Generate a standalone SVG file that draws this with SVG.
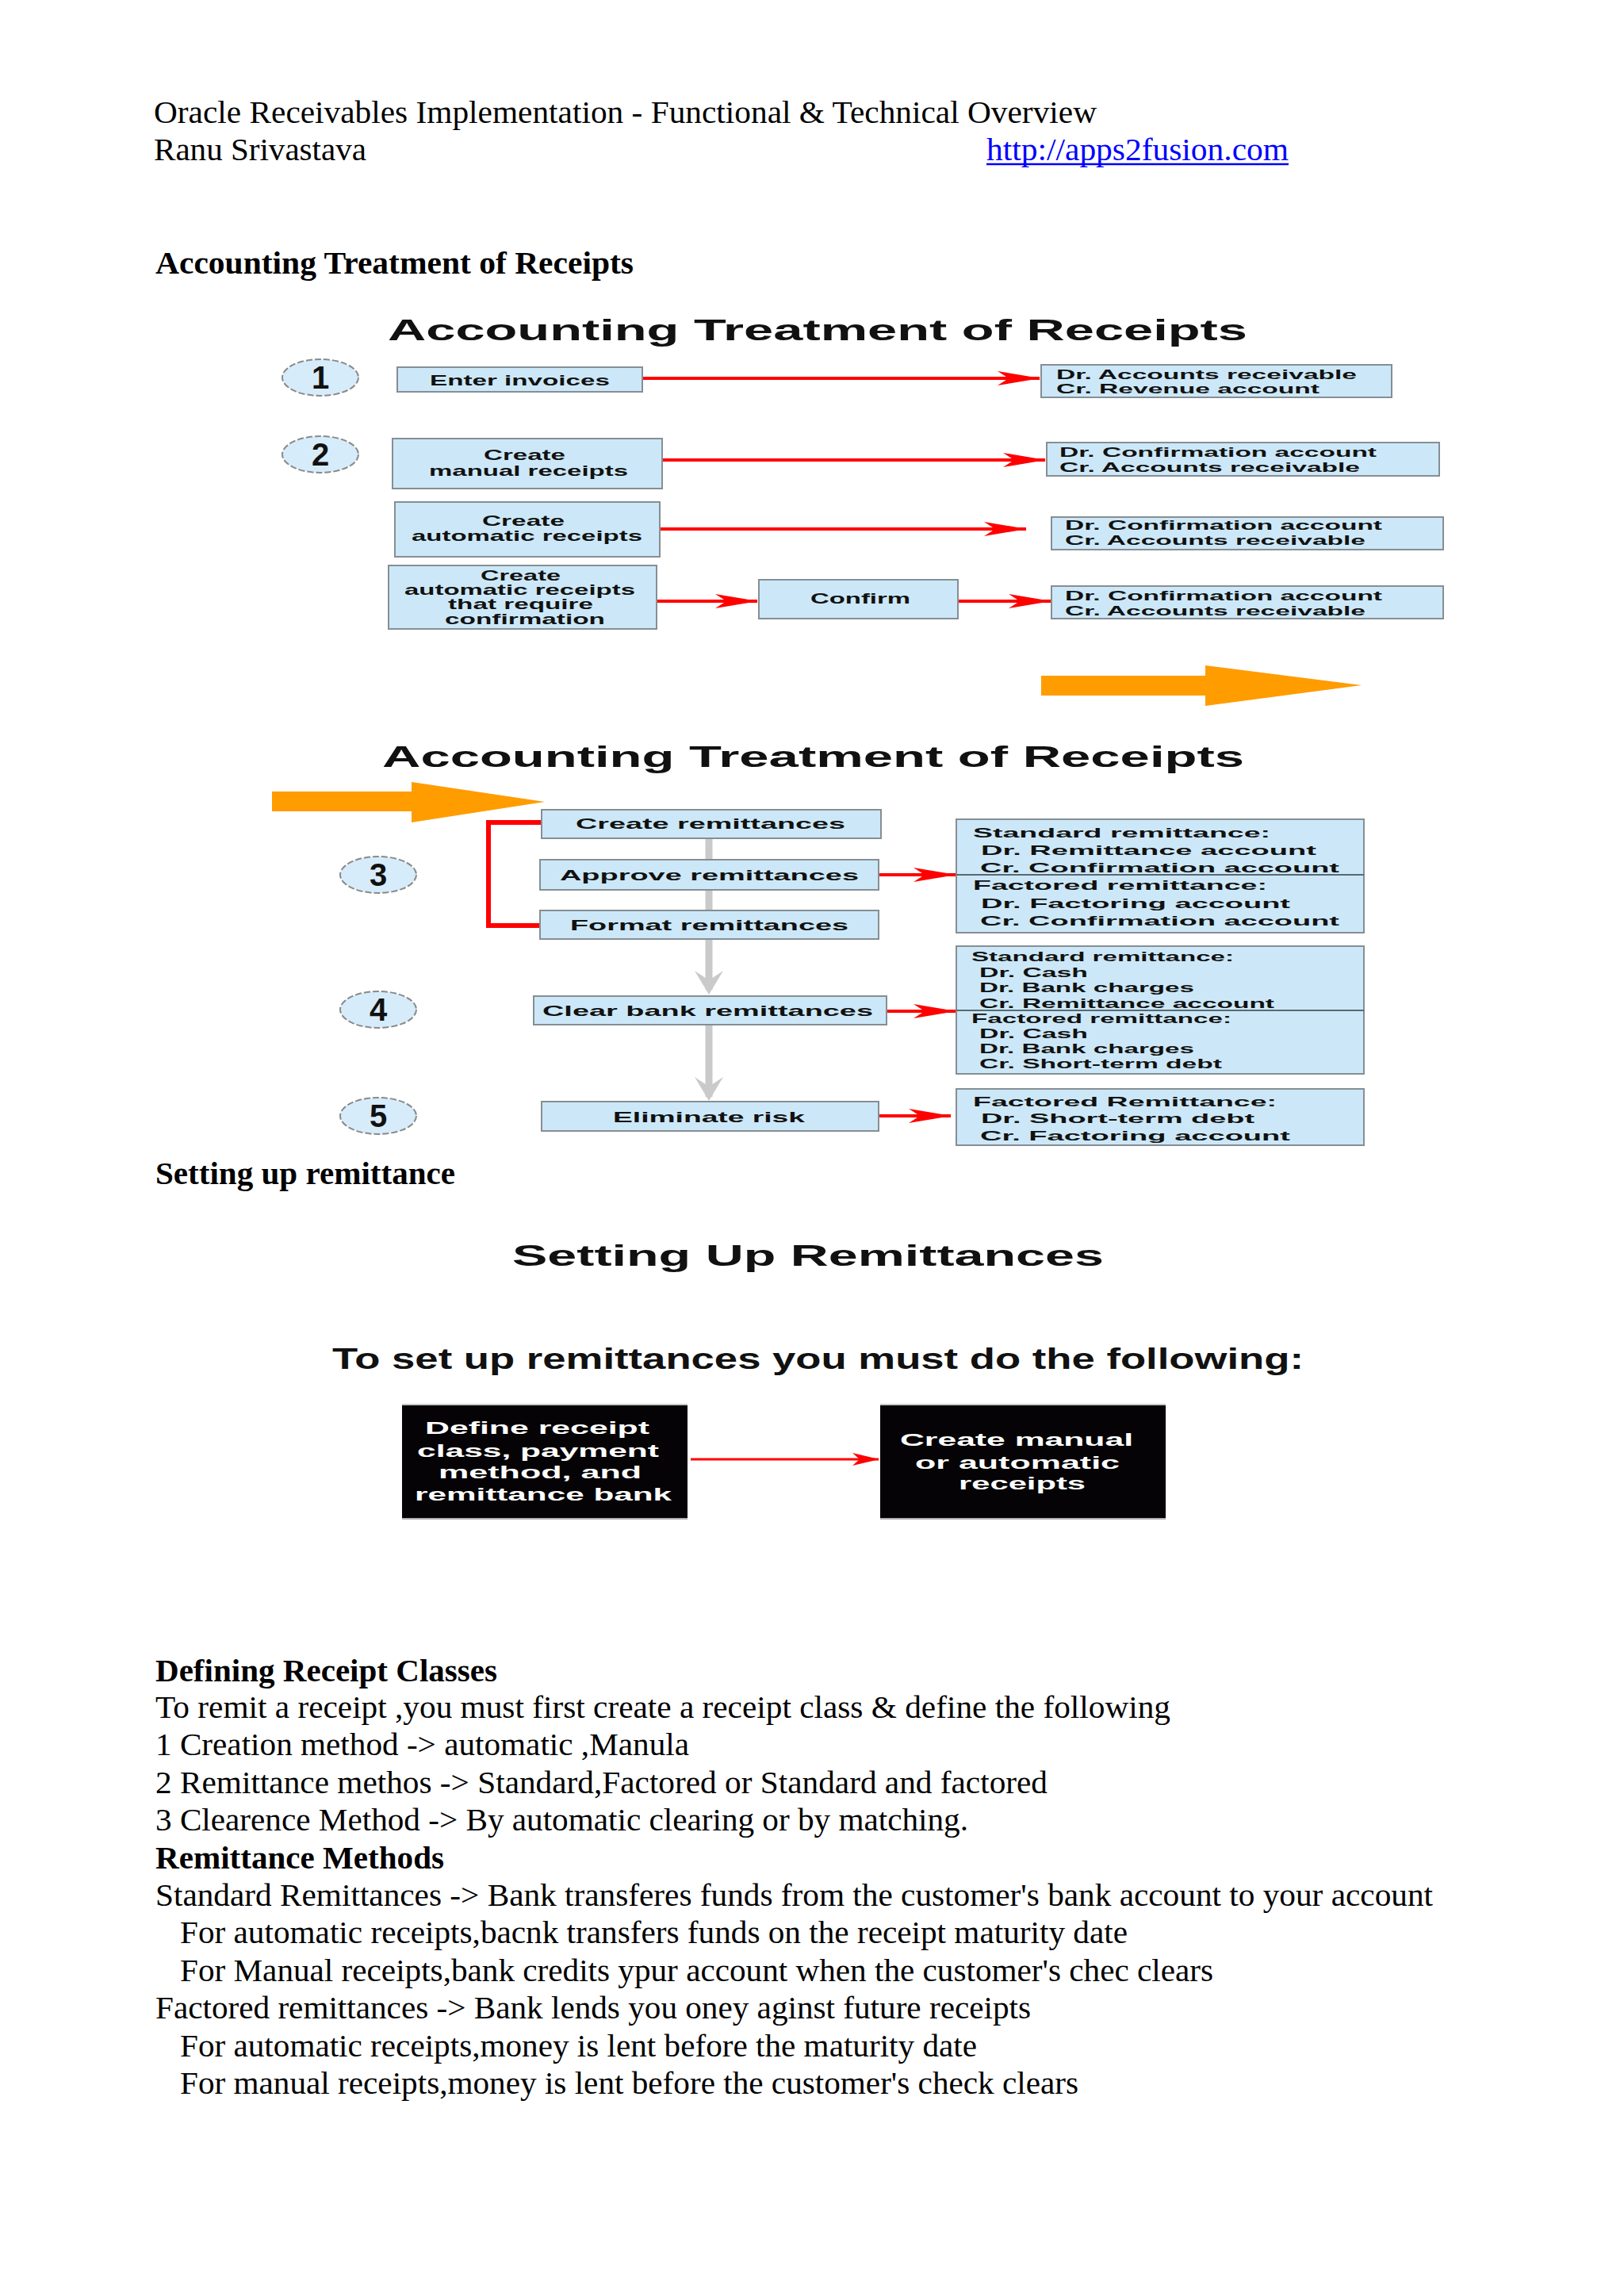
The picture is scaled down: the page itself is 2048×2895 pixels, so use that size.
<svg xmlns="http://www.w3.org/2000/svg" width="2048" height="2895" viewBox="0 0 2048 2895">
<defs>
<style>
.doc{font-family:"Liberation Serif","Times New Roman",serif;font-size:41px;fill:#000}
.docb{font-family:"Liberation Serif","Times New Roman",serif;font-size:41px;font-weight:bold;fill:#000}
.ttl{font-family:"Liberation Sans",Arial,sans-serif;font-weight:bold;font-size:36px;fill:#111}
.bx{fill:#cce8f8;stroke:#868e94;stroke-width:2}
.bt{font-family:"Liberation Sans",Arial,sans-serif;font-weight:bold;font-size:19px;fill:#111}
.st{font-family:"Liberation Sans",Arial,sans-serif;font-weight:bold;font-size:17px;fill:#111}
.num{font-family:"Liberation Sans",Arial,sans-serif;font-weight:bold;font-size:40px;fill:#111;text-anchor:middle}
.circ{fill:#d6ecfa;stroke:#8a8a8a;stroke-width:2;stroke-dasharray:8 3}
.red{stroke:#ff0000;stroke-width:4;fill:none}
.gray{stroke:#cacaca;stroke-width:9;fill:none}
.blk{fill:#050305}
.wt{font-family:"Liberation Sans",Arial,sans-serif;font-weight:bold;font-size:22px;fill:#fff}
.orange{fill:#ff9c00}
</style>
<marker id="ra" markerUnits="userSpaceOnUse" markerWidth="54" markerHeight="20" viewBox="0 0 54 20" refX="53" refY="10" orient="auto">
<path d="M0,1 L54,10 L0,19 L14,10 Z" fill="#ff0000"/>
</marker>
<marker id="rs" markerUnits="userSpaceOnUse" markerWidth="34" markerHeight="16" viewBox="0 0 34 16" refX="33" refY="8" orient="auto">
<path d="M0,0 L34,8 L0,16 L9,8 Z" fill="#ff0000"/>
</marker>
</defs>
<rect width="2048" height="2895" fill="#ffffff"/>

<g id="header">
<text class="doc" x="194" y="155" textLength="1189" lengthAdjust="spacingAndGlyphs">Oracle Receivables Implementation - Functional &amp; Technical Overview</text>
<text class="doc" x="194" y="202" textLength="268" lengthAdjust="spacingAndGlyphs">Ranu Srivastava</text>
<text class="doc" x="1244" y="202" fill="#0000ff" style="fill:#0000ff" textLength="381" lengthAdjust="spacingAndGlyphs">http://apps2fusion.com</text>
<line x1="1244" y1="207" x2="1625" y2="207" stroke="#0000ff" stroke-width="2.5"/>
<text class="docb" x="196" y="345" textLength="603" lengthAdjust="spacingAndGlyphs">Accounting Treatment of Receipts</text>
</g>

<!-- Diagram 1 -->
<g id="title1"><text class="ttl" x="489" y="429" textLength="1084" lengthAdjust="spacingAndGlyphs">Accounting Treatment of Receipts</text></g>

<g id="connectors1">
<line class="red" x1="810" y1="477" x2="1311" y2="477" marker-end="url(#ra)"/>
<line class="red" x1="835" y1="580" x2="1318" y2="580" marker-end="url(#ra)"/>
<line class="red" x1="832" y1="667" x2="1294" y2="667" marker-end="url(#ra)"/>
<line class="red" x1="828" y1="758" x2="955" y2="758" marker-end="url(#ra)"/>
<line class="red" x1="1208" y1="758" x2="1325" y2="758" marker-end="url(#ra)"/>
</g>

<g id="step1"><ellipse class="circ" cx="404" cy="476" rx="48" ry="23"/><text class="num" x="404" y="490">1</text></g>
<g id="step2"><ellipse class="circ" cx="404" cy="573" rx="48" ry="23"/><text class="num" x="404" y="587">2</text></g>

<g id="enter-invoices"><rect class="bx" x="501" y="463" width="309" height="31"/>
<text class="bt" x="542" y="486" font-size="20" textLength="227" lengthAdjust="spacingAndGlyphs">Enter invoices</text></g>
<g id="manual-receipts"><rect class="bx" x="495" y="553" width="340" height="63"/>
<text class="bt" x="610" y="580" textLength="103" lengthAdjust="spacingAndGlyphs">Create</text>
<text class="bt" x="541" y="600" textLength="251" lengthAdjust="spacingAndGlyphs">manual receipts</text></g>
<g id="automatic-receipts"><rect class="bx" x="498" y="633" width="334" height="69"/>
<text class="bt" x="608" y="663" textLength="104" lengthAdjust="spacingAndGlyphs">Create</text>
<text class="bt" x="519" y="682" textLength="291" lengthAdjust="spacingAndGlyphs">automatic receipts</text></g>
<g id="auto-confirm-receipts"><rect class="bx" x="490" y="713" width="338" height="80"/>
<text class="bt" x="606" y="732" textLength="101" lengthAdjust="spacingAndGlyphs">Create</text>
<text class="bt" x="510" y="750" textLength="291" lengthAdjust="spacingAndGlyphs">automatic receipts</text>
<text class="bt" x="565" y="768" textLength="183" lengthAdjust="spacingAndGlyphs">that require</text>
<text class="bt" x="561" y="787" textLength="202" lengthAdjust="spacingAndGlyphs">confirmation</text></g>
<g id="confirm"><rect class="bx" x="957" y="731" width="251" height="49"/>
<text class="bt" x="1022" y="761" textLength="126" lengthAdjust="spacingAndGlyphs">Confirm</text></g>

<g id="r1"><rect class="bx" x="1313" y="460" width="442" height="41"/>
<text class="st" x="1332" y="478" textLength="379" lengthAdjust="spacingAndGlyphs">Dr. Accounts receivable</text>
<text class="st" x="1332" y="496" textLength="332" lengthAdjust="spacingAndGlyphs">Cr. Revenue account</text></g>
<g id="r2"><rect class="bx" x="1320" y="558" width="495" height="42"/>
<text class="st" x="1336" y="576" textLength="400" lengthAdjust="spacingAndGlyphs">Dr. Confirmation account</text>
<text class="st" x="1336" y="595" textLength="379" lengthAdjust="spacingAndGlyphs">Cr. Accounts receivable</text></g>
<g id="r3"><rect class="bx" x="1326" y="652" width="494" height="41"/>
<text class="st" x="1343" y="668" textLength="400" lengthAdjust="spacingAndGlyphs">Dr. Confirmation account</text>
<text class="st" x="1343" y="687" textLength="379" lengthAdjust="spacingAndGlyphs">Cr. Accounts receivable</text></g>
<g id="r4"><rect class="bx" x="1326" y="739" width="494" height="41"/>
<text class="st" x="1343" y="757" textLength="400" lengthAdjust="spacingAndGlyphs">Dr. Confirmation account</text>
<text class="st" x="1343" y="776" textLength="379" lengthAdjust="spacingAndGlyphs">Cr. Accounts receivable</text></g>

<g id="orange-arrow-1"><polygon class="orange" points="1313,852 1520,852 1520,839 1717,864 1520,890 1520,877 1313,877"/></g>

<!-- Diagram 2 -->
<g id="title2"><text class="ttl" x="482" y="967" textLength="1087" lengthAdjust="spacingAndGlyphs">Accounting Treatment of Receipts</text></g>
<g id="orange-arrow-2"><polygon class="orange" points="343,998 519,998 519,986 687,1011 519,1037 519,1023 343,1023"/></g>

<g id="connectors2">
<line class="gray" x1="894" y1="1057" x2="894" y2="1248"/>
<path d="M876,1224 L894,1254 L912,1224 L894,1236 Z" fill="#cacaca"/>
<line class="gray" x1="894" y1="1292" x2="894" y2="1383"/>
<path d="M876,1358 L894,1388 L912,1358 L894,1370 Z" fill="#cacaca"/>
<polyline points="683,1037 616,1037 616,1167 683,1167" fill="none" stroke="#ff0000" stroke-width="6"/>
<line class="red" x1="1108" y1="1103" x2="1205" y2="1103" marker-end="url(#ra)"/>
<line class="red" x1="1118" y1="1275" x2="1205" y2="1275" marker-end="url(#ra)"/>
<line class="red" x1="1108" y1="1407" x2="1199" y2="1407" marker-end="url(#ra)"/>
</g>

<g id="step3"><ellipse class="circ" cx="477" cy="1103" rx="48" ry="23"/><text class="num" x="477" y="1117">3</text></g>
<g id="step4"><ellipse class="circ" cx="477" cy="1273" rx="48" ry="23"/><text class="num" x="477" y="1287">4</text></g>
<g id="step5"><ellipse class="circ" cx="477" cy="1407" rx="48" ry="23"/><text class="num" x="477" y="1421">5</text></g>

<g id="create-remittances"><rect class="bx" x="683" y="1021" width="428" height="36"/>
<text class="bt" x="726" y="1045" textLength="340" lengthAdjust="spacingAndGlyphs">Create remittances</text></g>
<g id="approve-remittances"><rect class="bx" x="681" y="1084" width="427" height="38"/>
<text class="bt" x="706" y="1110" textLength="377" lengthAdjust="spacingAndGlyphs">Approve remittances</text></g>
<g id="format-remittances"><rect class="bx" x="681" y="1148" width="427" height="36"/>
<text class="bt" x="719" y="1173" textLength="351" lengthAdjust="spacingAndGlyphs">Format remittances</text></g>
<g id="clear-bank-remittances"><rect class="bx" x="673" y="1256" width="445" height="36"/>
<text class="bt" x="684" y="1281" textLength="417" lengthAdjust="spacingAndGlyphs">Clear bank remittances</text></g>
<g id="eliminate-risk"><rect class="bx" x="683" y="1389" width="425" height="37"/>
<text class="bt" x="773" y="1415" textLength="242" lengthAdjust="spacingAndGlyphs">Eliminate risk</text></g>

<g id="s1"><rect class="bx" x="1206" y="1033" width="514" height="143"/>
<line x1="1206" y1="1103" x2="1720" y2="1103" stroke="#5a6a70" stroke-width="2"/>
<text class="st" x="1227" y="1056" font-size="16" textLength="375" lengthAdjust="spacingAndGlyphs">Standard remittance:</text>
<text class="st" x="1237" y="1078" textLength="423" lengthAdjust="spacingAndGlyphs">Dr. Remittance account</text>
<text class="st" x="1236" y="1100" textLength="453" lengthAdjust="spacingAndGlyphs">Cr. Confirmation account</text>
<text class="st" x="1227" y="1122" font-size="16" textLength="371" lengthAdjust="spacingAndGlyphs">Factored remittance:</text>
<text class="st" x="1237" y="1145" textLength="390" lengthAdjust="spacingAndGlyphs">Dr. Factoring account</text>
<text class="st" x="1236" y="1167" textLength="453" lengthAdjust="spacingAndGlyphs">Cr. Confirmation account</text></g>
<g id="s2"><rect class="bx" x="1206" y="1193" width="514" height="161"/>
<line x1="1206" y1="1274" x2="1720" y2="1274" stroke="#5a6a70" stroke-width="2"/>
<text class="st" x="1225" y="1212" font-size="16" textLength="331" lengthAdjust="spacingAndGlyphs">Standard remittance:</text>
<text class="st" x="1235" y="1232" font-size="16" textLength="137" lengthAdjust="spacingAndGlyphs">Dr. Cash</text>
<text class="st" x="1235" y="1251" font-size="16" textLength="271" lengthAdjust="spacingAndGlyphs">Dr. Bank charges</text>
<text class="st" x="1235" y="1271" font-size="16" textLength="372" lengthAdjust="spacingAndGlyphs">Cr. Remittance account</text>
<text class="st" x="1225" y="1290" font-size="16" textLength="328" lengthAdjust="spacingAndGlyphs">Factored remittance:</text>
<text class="st" x="1235" y="1309" font-size="16" textLength="137" lengthAdjust="spacingAndGlyphs">Dr. Cash</text>
<text class="st" x="1235" y="1328" font-size="16" textLength="271" lengthAdjust="spacingAndGlyphs">Dr. Bank charges</text>
<text class="st" x="1235" y="1347" font-size="16" textLength="306" lengthAdjust="spacingAndGlyphs">Cr. Short-term debt</text></g>
<g id="s3"><rect class="bx" x="1206" y="1373" width="514" height="71"/>
<text class="st" x="1227" y="1395" textLength="383" lengthAdjust="spacingAndGlyphs">Factored Remittance:</text>
<text class="st" x="1237" y="1416" textLength="345" lengthAdjust="spacingAndGlyphs">Dr. Short-term debt</text>
<text class="st" x="1236" y="1438" textLength="391" lengthAdjust="spacingAndGlyphs">Cr. Factoring account</text></g>

<g id="section2"><text class="docb" x="196" y="1493" textLength="378" lengthAdjust="spacingAndGlyphs">Setting up remittance</text></g>

<!-- Diagram 3 -->
<g id="title3">
<text class="ttl" x="646" y="1596" font-size="35" textLength="746" lengthAdjust="spacingAndGlyphs">Setting Up Remittances</text>
<text class="ttl" x="419" y="1726" font-size="30" textLength="1225" lengthAdjust="spacingAndGlyphs">To set up remittances you must do the following:</text>
</g>
<g id="connectors3">
<line x1="871" y1="1840" x2="1108" y2="1840" stroke="#ff0000" stroke-width="3" marker-end="url(#rs)"/>
</g>
<g id="define-receipt-class">
<rect class="blk" x="507" y="1772" width="360" height="142"/>
<line x1="507" y1="1771" x2="867" y2="1771" stroke="#c8c8c8" stroke-width="2"/>
<line x1="507" y1="1915" x2="867" y2="1915" stroke="#b0b0b0" stroke-width="2"/>
<text class="wt" x="536" y="1808" textLength="283" lengthAdjust="spacingAndGlyphs">Define receipt</text>
<text class="wt" x="526" y="1837" textLength="305" lengthAdjust="spacingAndGlyphs">class, payment</text>
<text class="wt" x="553" y="1864" textLength="256" lengthAdjust="spacingAndGlyphs">method, and</text>
<text class="wt" x="523" y="1892" textLength="324" lengthAdjust="spacingAndGlyphs">remittance bank</text>
</g>
<g id="create-receipts">
<rect class="blk" x="1110" y="1772" width="360" height="142"/>
<line x1="1110" y1="1771" x2="1470" y2="1771" stroke="#c8c8c8" stroke-width="2"/>
<line x1="1110" y1="1915" x2="1470" y2="1915" stroke="#b0b0b0" stroke-width="2"/>
<text class="wt" x="1135" y="1823" textLength="294" lengthAdjust="spacingAndGlyphs">Create manual</text>
<text class="wt" x="1154" y="1852" textLength="258" lengthAdjust="spacingAndGlyphs">or automatic</text>
<text class="wt" x="1209" y="1878" textLength="160" lengthAdjust="spacingAndGlyphs">receipts</text>
</g>

<g id="body">
<text class="docb" x="196" y="2120" textLength="431" lengthAdjust="spacingAndGlyphs">Defining Receipt Classes</text>
<text class="doc" x="196" y="2166" textLength="1280" lengthAdjust="spacingAndGlyphs">To remit a receipt ,you must first create a receipt class &amp; define the following</text>
<text class="doc" x="196" y="2213" textLength="673" lengthAdjust="spacingAndGlyphs">1 Creation method -&gt; automatic ,Manula</text>
<text class="doc" x="196" y="2261" textLength="1125" lengthAdjust="spacingAndGlyphs">2 Remittance methos -&gt; Standard,Factored or Standard and factored</text>
<text class="doc" x="196" y="2308" textLength="1025" lengthAdjust="spacingAndGlyphs">3 Clearence Method -&gt; By automatic clearing or by matching.</text>
<text class="docb" x="196" y="2356" textLength="364" lengthAdjust="spacingAndGlyphs">Remittance Methods</text>
<text class="doc" x="196" y="2403" textLength="1611" lengthAdjust="spacingAndGlyphs">Standard Remittances -&gt; Bank transferes funds from the customer's bank account to your account</text>
<text class="doc" x="227" y="2450" textLength="1195" lengthAdjust="spacingAndGlyphs">For automatic receipts,bacnk transfers funds on the receipt maturity date</text>
<text class="doc" x="227" y="2498" textLength="1303" lengthAdjust="spacingAndGlyphs">For Manual receipts,bank credits ypur account when the customer's chec clears</text>
<text class="doc" x="196" y="2545" textLength="1104" lengthAdjust="spacingAndGlyphs">Factored remittances -&gt; Bank lends you oney aginst future receipts</text>
<text class="doc" x="227" y="2593" textLength="1005" lengthAdjust="spacingAndGlyphs">For automatic receipts,money is lent before the maturity date</text>
<text class="doc" x="227" y="2640" textLength="1133" lengthAdjust="spacingAndGlyphs">For manual receipts,money is lent before the customer's check clears</text>
</g>
</svg>
